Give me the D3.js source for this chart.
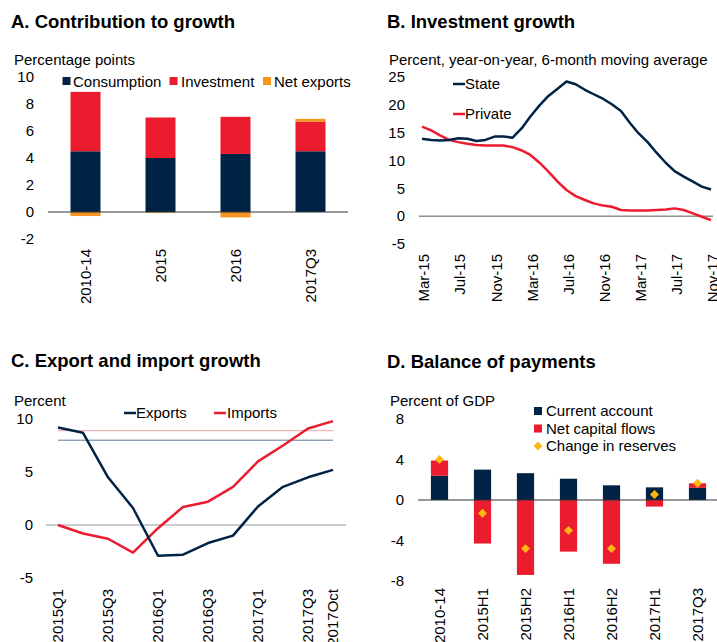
<!DOCTYPE html>
<html>
<head>
<meta charset="utf-8">
<script src="https://cdn.jsdelivr.net/npm/d3@7"></script>
<style>
  body { margin: 0; background: #fff; }
  svg { font-family: "Liberation Sans", Arial, sans-serif; }
  .title { font-weight: bold; font-size: 18.5px; fill: #000; }
  .sub, .tick-lbl, .leg { font-size: 15px; fill: #000; }
</style>
</head>
<body>
<div id="chart"></div>
<script>
// ---- data ----
const growthCats = ["2010-14", "2015", "2016", "2017Q3"];
const consumption = [4.5, 4.0, 4.3, 4.5];
const investment = [4.4, 3.0, 2.75, 2.2];
const netExports = [-0.3, -0.05, -0.4, 0.2];

const investMonths = ["2015-03","2015-04","2015-05","2015-06","2015-07","2015-08","2015-09","2015-10","2015-11","2015-12",
  "2016-01","2016-02","2016-03","2016-04","2016-05","2016-06","2016-07","2016-08","2016-09","2016-10","2016-11","2016-12",
  "2017-01","2017-02","2017-03","2017-04","2017-05","2017-06","2017-07","2017-08","2017-09","2017-10","2017-11"];
const stateInv = [13.9, 13.7, 13.6, 13.7, 14.0, 13.9, 13.5, 13.7, 14.3, 14.3, 14.1, 15.8, 17.9, 19.9, 21.6, 22.9,
  24.2, 23.7, 22.7, 21.9, 21.1, 20.1, 18.9, 16.7, 14.9, 13.3, 11.4, 9.6, 8.1, 7.1, 6.2, 5.3, 4.8];
const privateInv = [16.1, 15.4, 14.5, 13.7, 13.3, 13.0, 12.8, 12.7, 12.7, 12.7, 12.4, 11.8, 11.0, 9.6, 8.0, 6.2,
  4.7, 3.6, 2.9, 2.3, 1.9, 1.7, 1.1, 1.0, 1.0, 1.0, 1.1, 1.2, 1.4, 1.1, 0.5, -0.1, -0.7];
const monthTicks = ["2015-03","2015-07","2015-11","2016-03","2016-07","2016-11","2017-03","2017-07","2017-11"];

const tradePeriods = ["2015Q1","2015Q2","2015Q3","2015Q4","2016Q1","2016Q2","2016Q3","2016Q4","2017Q1","2017Q2","2017Q3","2017Oct"];
const exportsG = [9.2, 8.7, 4.5, 1.6, -2.9, -2.8, -1.7, -1.0, 1.75, 3.6, 4.5, 5.2];
const importsG = [0.0, -0.8, -1.3, -2.6, -0.3, 1.7, 2.2, 3.6, 6.0, 7.5, 9.1, 9.8];
const tradeTicks = ["2015Q1","2015Q3","2016Q1","2016Q3","2017Q1","2017Q3","2017Oct"];
const importRef = 8.9;
const exportRef = 8.0;

const bopCats = ["2010-14","2015H1","2015H2","2016H1","2016H2","2017H1","2017Q3"];
const currentAcc = [2.4, 3.0, 2.65, 2.1, 1.45, 1.25, 1.2];
const capitalFlows = [1.5, -4.3, -7.4, -5.1, -6.3, -0.65, 0.45];
const reserves = [4.0, -1.3, -4.8, -3.0, -4.8, 0.55, 1.65];

const navy = "#002345", red = "#eb1c2d", orange = "#f7941d", gold = "#fdb714";

const svg = d3.select("#chart").append("svg").attr("width", 717).attr("height", 642);

function title(x, y, t) { svg.append("text").attr("class", "title").attr("x", x).attr("y", y).text(t); }
function sub(x, y, t) { svg.append("text").attr("class", "sub").attr("x", x).attr("y", y).text(t); }
function yLabels(scale, ticks, xRight) {
  svg.append("g").selectAll("text").data(ticks).join("text")
    .attr("class", "tick-lbl").attr("x", xRight).attr("y", d => scale(d))
    .attr("dy", "0.35em").attr("text-anchor", "end").text(d => d);
}
function xLabels(data, xpos, yTop) {
  svg.append("g").selectAll("text").data(data).join("text")
    .attr("class", "tick-lbl").attr("text-anchor", "end").attr("dy", "0.35em")
    .attr("transform", d => `translate(${xpos(d)},${yTop}) rotate(-90)`)
    .text(d => d.label || d);
}

// ===== A. Contribution to growth =====
title(11, 28, "A. Contribution to growth");
sub(14, 65, "Percentage points");

const xA = d3.scaleBand().domain(growthCats).range([48, 348]).paddingInner(0.6).paddingOuter(0.3);
const yA = d3.scaleLinear().domain([-2, 10]).range([239, 77]);
yLabels(yA, [10, 8, 6, 4, 2, 0, -2], 34);

const gA = svg.append("g");
growthCats.forEach((c, i) => {
  gA.append("rect").attr("x", xA(c)).attr("width", xA.bandwidth())
    .attr("y", yA(consumption[i])).attr("height", yA(0) - yA(consumption[i])).attr("fill", navy);
  gA.append("rect").attr("x", xA(c)).attr("width", xA.bandwidth())
    .attr("y", yA(consumption[i] + investment[i])).attr("height", yA(0) - yA(investment[i])).attr("fill", red);
  const ne = netExports[i];
  const base = ne >= 0 ? consumption[i] + investment[i] : 0;
  gA.append("rect").attr("x", xA(c)).attr("width", xA.bandwidth())
    .attr("y", ne >= 0 ? yA(base + ne) : yA(0))
    .attr("height", Math.abs(yA(0) - yA(ne))).attr("fill", orange);
});
gA.append("line").attr("x1", 48).attr("x2", 348).attr("y1", yA(0)).attr("y2", yA(0))
  .attr("stroke", "#333").attr("stroke-width", 1);
xLabels(growthCats, d => xA(d) + xA.bandwidth() / 2, 249);

const legA = [["Consumption", navy, 62.5, 73], ["Investment", red, 169.5, 181], ["Net exports", orange, 263, 274]];
legA.forEach(([t, c, sx, tx]) => {
  svg.append("rect").attr("x", sx).attr("y", 77).attr("width", 8).attr("height", 8).attr("fill", c);
  svg.append("text").attr("class", "leg").attr("x", tx).attr("y", 86.5).text(t);
});

// ===== B. Investment growth =====
title(387, 28, "B. Investment growth");
sub(389, 65, "Percent, year-on-year, 6-month moving average");

const parseM = d3.timeParse("%Y-%m");
const xB = d3.scaleTime().domain([parseM("2015-03"), parseM("2017-11")]).range([422, 711]);
const yB = d3.scaleLinear().domain([-5, 25]).range([244, 77]);
yLabels(yB, [25, 20, 15, 10, 5, 0, -5], 405);

svg.append("line").attr("x1", 419).attr("x2", 713).attr("y1", yB(0)).attr("y2", yB(0))
  .attr("stroke", "#555").attr("stroke-width", 1);

const lineB = d3.line().x((d, i) => xB(parseM(investMonths[i]))).y(d => yB(d));
svg.append("path").datum(privateInv).attr("d", lineB).attr("fill", "none")
  .attr("stroke", red).attr("stroke-width", 2.5).attr("stroke-linejoin", "round");
svg.append("path").datum(stateInv).attr("d", lineB).attr("fill", "none")
  .attr("stroke", navy).attr("stroke-width", 2.5).attr("stroke-linejoin", "round");

const fmtM = d3.timeFormat("%b-%y");
xLabels(monthTicks.map(m => ({ label: fmtM(parseM(m)), d: parseM(m) })), o => xB(o.d) + 2, 254);

[["State", navy, 84], ["Private", red, 114]].forEach(([t, c, y]) => {
  svg.append("line").attr("x1", 453).attr("x2", 465).attr("y1", y).attr("y2", y)
    .attr("stroke", c).attr("stroke-width", 2.5);
  svg.append("text").attr("class", "leg").attr("x", 465).attr("y", y + 5).text(t);
});

// ===== C. Export and import growth =====
title(11, 367, "C. Export and import growth");
sub(14, 406, "Percent");

const xC = d3.scalePoint().domain(tradePeriods).range([58, 333]);
const yC = d3.scaleLinear().domain([-5, 10]).range([578, 419]);
yLabels(yC, [10, 5, 0, -5], 33);

svg.append("line").attr("x1", 46).attr("x2", 346).attr("y1", yC(0)).attr("y2", yC(0))
  .attr("stroke", "#999").attr("stroke-width", 1);
svg.append("line").attr("x1", xC(tradePeriods[0])).attr("x2", xC(tradePeriods[11]))
  .attr("y1", yC(importRef)).attr("y2", yC(importRef)).attr("stroke", "#f4a3aa").attr("stroke-width", 1);
svg.append("line").attr("x1", xC(tradePeriods[0])).attr("x2", xC(tradePeriods[11]))
  .attr("y1", yC(exportRef)).attr("y2", yC(exportRef)).attr("stroke", "#5f7791").attr("stroke-width", 1);

const lineC = d3.line().x((d, i) => xC(tradePeriods[i])).y(d => yC(d));
svg.append("path").datum(importsG).attr("d", lineC).attr("fill", "none")
  .attr("stroke", red).attr("stroke-width", 2.5).attr("stroke-linejoin", "round");
svg.append("path").datum(exportsG).attr("d", lineC).attr("fill", "none")
  .attr("stroke", navy).attr("stroke-width", 2.5).attr("stroke-linejoin", "round");
xLabels(tradeTicks, d => xC(d), 589);

[["Exports", navy, 124, 136], ["Imports", red, 214, 227]].forEach(([t, c, lx, tx]) => {
  svg.append("line").attr("x1", lx).attr("x2", lx + 12).attr("y1", 413).attr("y2", 413)
    .attr("stroke", c).attr("stroke-width", 2.5);
  svg.append("text").attr("class", "leg").attr("x", tx).attr("y", 418).text(t);
});

// ===== D. Balance of payments =====
title(387, 368, "D. Balance of payments");
sub(390, 406, "Percent of GDP");

const xD = d3.scaleBand().domain(bopCats).range([418, 719]).paddingInner(0.6).paddingOuter(0.3);
const yD = d3.scaleLinear().domain([-8, 8]).range([581, 419]);
yLabels(yD, [8, 4, 0, -4, -8], 404);

const gD = svg.append("g");
bopCats.forEach((c, i) => {
  const ca = currentAcc[i], kf = capitalFlows[i];
  gD.append("rect").attr("x", xD(c)).attr("width", xD.bandwidth())
    .attr("y", yD(ca)).attr("height", yD(0) - yD(ca)).attr("fill", navy);
  if (kf >= 0) {
    gD.append("rect").attr("x", xD(c)).attr("width", xD.bandwidth())
      .attr("y", yD(ca + kf)).attr("height", yD(0) - yD(kf)).attr("fill", red);
  } else {
    gD.append("rect").attr("x", xD(c)).attr("width", xD.bandwidth())
      .attr("y", yD(0)).attr("height", yD(kf) - yD(0)).attr("fill", red);
  }
});
svg.append("line").attr("x1", 418).attr("x2", 717).attr("y1", yD(0)).attr("y2", yD(0))
  .attr("stroke", "#333").attr("stroke-width", 1);

const diamond = d3.symbol().type(d3.symbolSquare).size(40);
gD.selectAll("path.res").data(reserves).join("path").attr("class", "res")
  .attr("d", diamond).attr("fill", gold)
  .attr("transform", (d, i) => `translate(${xD(bopCats[i]) + xD.bandwidth() / 2},${yD(d)}) rotate(45)`);
xLabels(bopCats, d => xD(d) + xD.bandwidth() / 2, 588);

[["Current account", navy, 411], ["Net capital flows", red, 428.5]].forEach(([t, c, y]) => {
  svg.append("rect").attr("x", 534).attr("y", y - 4).attr("width", 8).attr("height", 8).attr("fill", c);
  svg.append("text").attr("class", "leg").attr("x", 546).attr("y", y + 5).text(t);
});
svg.append("path").attr("d", diamond).attr("fill", gold).attr("transform", "translate(538,446) rotate(45)");
svg.append("text").attr("class", "leg").attr("x", 546).attr("y", 451).text("Change in reserves");
</script>
</body>
</html>
